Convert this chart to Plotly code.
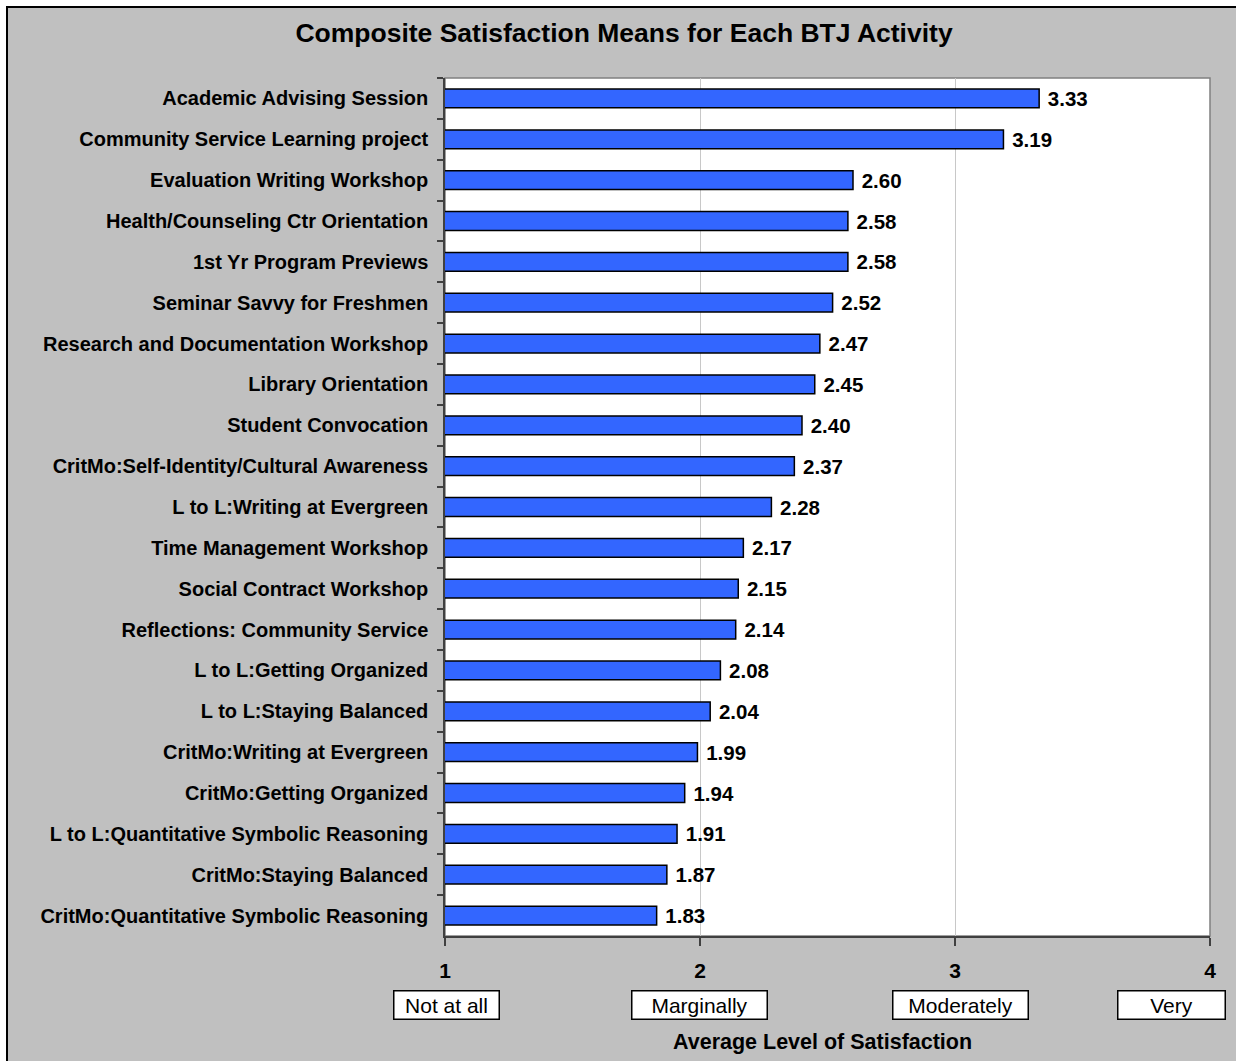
import plotly.graph_objects as go

activities = [
    "Academic Advising Session",
    "Community Service Learning project",
    "Evaluation Writing Workshop",
    "Health/Counseling Ctr Orientation",
    "1st Yr Program Previews",
    "Seminar Savvy for Freshmen",
    "Research and Documentation Workshop",
    "Library Orientation",
    "Student Convocation",
    "CritMo:Self-Identity/Cultural Awareness",
    "L to L:Writing at Evergreen",
    "Time Management Workshop",
    "Social Contract Workshop",
    "Reflections: Community Service",
    "L to L:Getting Organized",
    "L to L:Staying Balanced",
    "CritMo:Writing at Evergreen",
    "CritMo:Getting Organized",
    "L to L:Quantitative Symbolic Reasoning",
    "CritMo:Staying Balanced",
    "CritMo:Quantitative Symbolic Reasoning",
]
means = [3.33, 3.19, 2.60, 2.58, 2.58, 2.52, 2.47, 2.45, 2.40, 2.37, 2.28,
         2.17, 2.15, 2.14, 2.08, 2.04, 1.99, 1.94, 1.91, 1.87, 1.83]
tick_vals = [1, 2, 3, 4]
tick_text = ["1", "2", "3", "4"]
scale_labels = ["Not at all", "Marginally", "Moderately", "Very"]

W, H = 1236, 1061
L, R, T, B = 445, 26, 78, 125
PW, PH = W - L - R, H - T - B

def px(xpix):
    return (xpix - L) / PW

def py(ypix):
    return (H - B - ypix) / PH

FONT = "Liberation Sans, Arial, sans-serif"

fig = go.Figure()
fig.add_trace(go.Bar(
    x=means, y=activities, orientation="h",
    marker=dict(color="#3366FF", line=dict(color="black", width=1.5)),
    texttemplate=" %{x:.2f}",
    textposition="outside",
    constraintext="none",
    textfont=dict(family=FONT, size=20.5, color="black", weight="bold"),
    cliponaxis=True,
))

shapes = [
    dict(type="rect", xref="paper", yref="paper", layer="below",
         x0=px(7), x1=px(1300), y0=py(1100), y1=py(7),
         fillcolor="#C0C0C0", line=dict(color="black", width=2)),
    dict(type="rect", xref="paper", yref="paper", layer="below",
         x0=0, x1=1, y0=0, y1=1,
         fillcolor="white", line=dict(color="#808080", width=1.5)),
]

annotations = []
box_centers = [446.5, 699.5, 960.5, 1171.5]
box_widths = [107, 137, 137, 109]
for lab, cx, bw in zip(scale_labels, box_centers, box_widths):
    annotations.append(dict(
        text=lab, xref="paper", yref="paper", x=px(cx), y=py(1004.5),
        xanchor="center", yanchor="middle", showarrow=False,
        font=dict(family=FONT, size=21, color="black"),
        bgcolor="white", bordercolor="black", borderwidth=1.5, borderpad=0,
        width=bw - 3, height=27, align="center", valign="middle",
    ))
annotations.append(dict(
    text="<b>Average Level of Satisfaction</b>", xref="paper", yref="paper",
    x=px(822), y=py(1042), xanchor="center", yanchor="middle", showarrow=False,
    font=dict(family=FONT, size=21.5, color="black"),
))

fig.update_layout(
    width=W, height=H,
    margin=dict(l=L, r=R, t=T, b=B, pad=0),
    paper_bgcolor="white", plot_bgcolor="white",
    showlegend=False,
    bargap=0.54,
    title=dict(text="<b>Composite Satisfaction Means for Each BTJ Activity</b>",
               x=624 / W, xanchor="center", xref="container",
               y=1 - 33 / H, yanchor="middle", yref="container",
               font=dict(family=FONT, size=26.5, color="black")),
    xaxis=dict(range=[1, 4], tickvals=tick_vals, ticktext=tick_text,
               showgrid=True, gridcolor="#C8C8C8", gridwidth=1,
               showline=True, linecolor="#404040", linewidth=1.5,
               ticks="outside", ticklen=8, tickcolor="#404040", tickwidth=1.5,
               ticklabelstandoff=7, zeroline=False,
               tickfont=dict(family=FONT, size=21, color="black", weight="bold")),
    yaxis=dict(autorange="reversed", type="category",
               showline=True, linecolor="#404040", linewidth=1.5,
               ticks="outside", ticklen=6, tickcolor="#404040", tickwidth=1.5,
               tickson="boundaries", showgrid=False, ticklabelstandoff=11,
               tickfont=dict(family=FONT, size=20, color="black", weight="bold")),
    shapes=shapes,
    annotations=annotations,
)

fig.write_html("out.html")
